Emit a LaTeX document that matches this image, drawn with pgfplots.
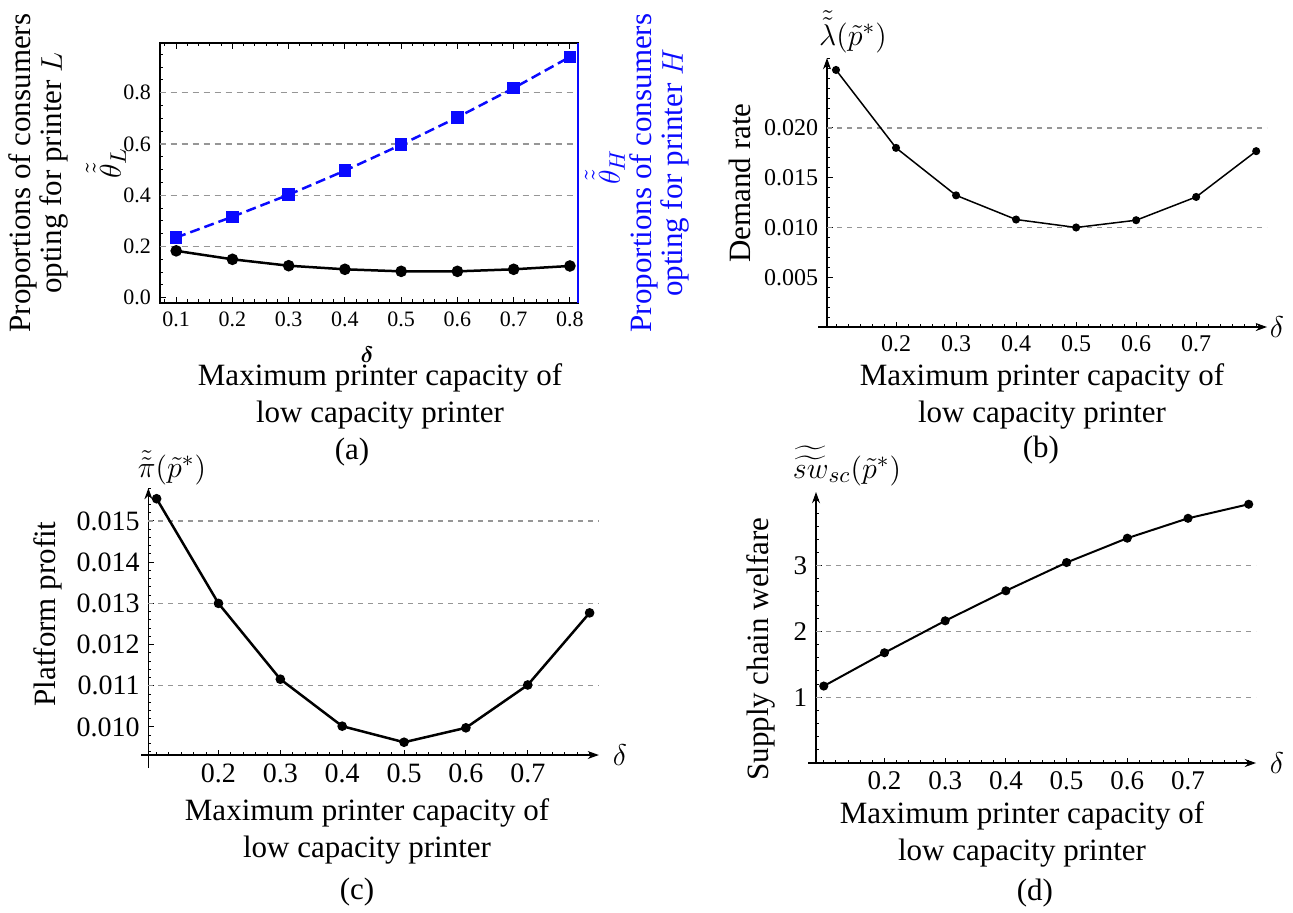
\documentclass[border=0pt]{standalone}
\usepackage{amsmath}
\usepackage{fontspec}
\setmainfont{Liberation Serif}
\usepackage{pgfplots}
\pgfplotsset{compat=1.18}
\usetikzlibrary{arrows.meta}
\definecolor{gridgray}{RGB}{150,150,150}
\definecolor{pblue}{RGB}{10,10,255}
\newcommand\lab{\fontsize{12.4}{14.8}\selectfont}
\newcommand\rlab{\fontsize{12.4}{12.6}\selectfont}

\pgfplotsset{
 mstyle/.style={
   scale only axis, anchor=south west,
   axis lines=left,
   axis line style={line width=0.5pt, -{Stealth[length=4.5pt,width=3.2pt]}},
   tick align=inside, major tick length=2.2pt, minor tick length=1.2pt,
   tick style={black, line width=0.4pt},
   scaled ticks=false,
   /pgf/number format/assume math mode=true,
   xtick={0.2,0.3,0.4,0.5,0.6,0.7},
   minor xtick={0.1,0.12,...,0.81},
   xticklabel style={/pgf/number format/fixed, /pgf/number format/precision=1, /pgf/number format/fixed zerofill},
   extra y tick labels={},
   extra y tick style={grid=major, major tick length=0pt, major grid style={gridgray, dash pattern=on 2pt off 2pt, line width=0.5pt}},
   clip=false,
 },
}

\begin{document}
\begin{tikzpicture}
\useasboundingbox (0,0) rectangle (517.2pt,-364.8pt);

% ---------------- (a) ----------------
\begin{axis}[at={(63.84pt,-17.2pt)}, anchor=north west, scale only axis,
  width=167.5pt, height=103.9pt,
  xmin=0.0705, xmax=0.815, ymin=-0.0195, ymax=0.994,
  axis line style={line width=0.8pt},
  tick align=inside, major tick length=2.4pt, minor tick length=1.3pt,
  tick style={black, line width=0.4pt},
  xtick={0.1,0.2,0.3,0.4,0.5,0.6,0.7,0.8},
  ytick={0,0.2,0.4,0.6,0.8},
  minor xtick={0.08,0.12,0.14,0.16,0.18,0.22,0.24,0.26,0.28,0.32,0.34,0.36,0.38,0.42,0.44,0.46,0.48,0.52,0.54,0.56,0.58,0.62,0.64,0.66,0.68,0.72,0.74,0.76,0.78},
  minor ytick={0.05,0.1,0.15,0.25,0.3,0.35,0.45,0.5,0.55,0.65,0.7,0.75,0.85,0.9,0.95},
  ytick pos=left,
  scaled ticks=false,
  /pgf/number format/assume math mode=true,
  ticklabel style={font=\fontsize{8.8}{10}\selectfont, /pgf/number format/fixed, /pgf/number format/precision=1, /pgf/number format/fixed zerofill},
  extra y ticks={0.2,0.4,0.6,0.8}, extra y tick labels={},
  extra y tick style={grid=major, major tick length=0pt, major grid style={gridgray, dash pattern=on 2.4pt off 2pt, line width=0.5pt}},
  clip=false]
\addplot[black, line width=1pt, mark=*, mark size=1.8pt] coordinates {
 (0.1,0.183) (0.2,0.150) (0.3,0.125) (0.4,0.111) (0.5,0.103) (0.6,0.103) (0.7,0.111) (0.8,0.124)};
\end{axis}
\begin{axis}[at={(63.84pt,-17.2pt)}, anchor=north west, scale only axis,
  width=167.5pt, height=103.9pt,
  xmin=0.0705, xmax=0.815, ymin=-0.0195, ymax=0.994,
  axis x line=none, axis y line*=right,
  y axis line style={pblue, line width=0.8pt},
  ytick=\empty, clip=false]
\addplot[pblue, line width=1pt, dash pattern=on 4pt off 2pt, mark=square*, mark size=2pt, mark options={solid}] coordinates {
 (0.1,0.235) (0.2,0.316) (0.3,0.402) (0.4,0.496) (0.5,0.597) (0.6,0.704) (0.7,0.818) (0.8,0.940)};
\end{axis}

% ---------------- (b) ----------------
\begin{axis}[mstyle, at={(330.8pt,-130.8pt)}, width=176pt, height=107.6pt,
  xmin=0.085, xmax=0.818, ymin=0, ymax=0.02703,
  x axis line style={shorten <=-3.6pt},
  ytick={0.005,0.01,0.015,0.02},
  minor ytick={0.001,0.002,...,0.0265},
  extra y ticks={0.01,0.02},
  yticklabel style={/pgf/number format/fixed, /pgf/number format/precision=3, /pgf/number format/fixed zerofill},
  ticklabel style={font=\fontsize{9.6}{11}\selectfont}]
\addplot[black, line width=0.6pt, mark=*, mark size=1.3pt] coordinates {
 (0.1,0.02583) (0.2,0.0180) (0.3,0.01323) (0.4,0.0108) (0.5,0.0100) (0.6,0.01073) (0.7,0.01307) (0.8,0.01767)};
\end{axis}

% ---------------- (c) ----------------
\begin{axis}[mstyle, at={(59.36pt,-302pt)}, width=180.2pt, height=106.8pt,
  xmin=0.0867, xmax=0.815, ymin=0.00932, ymax=0.0158,
  x axis line style={shorten <=-2.8pt},
  y axis line style={shorten <=-5.2pt},
  ytick={0.010,0.011,0.012,0.013,0.014,0.015},
  minor ytick={0.0094,0.0096,...,0.0157},
  extra y ticks={0.011,0.013,0.015},
  yticklabel style={/pgf/number format/fixed, /pgf/number format/precision=3, /pgf/number format/fixed zerofill},
  ticklabel style={font=\fontsize{11.2}{13}\selectfont}]
\addplot[black, line width=1pt, mark=*, mark size=1.4pt] coordinates {
 (0.1,0.01554) (0.2,0.0130) (0.3,0.01116) (0.4,0.01002) (0.5,0.00963) (0.6,0.00998) (0.7,0.01102) (0.8,0.01277)};
\end{axis}

% ---------------- (d) ----------------
\begin{axis}[mstyle, at={(326.4pt,-305.2pt)}, width=176pt, height=108.4pt,
  xmin=0.0872, xmax=0.812, ymin=0, ymax=4.12,
  x axis line style={shorten <=-3.2pt},
  ytick={1,2,3},
  minor ytick={0.2,0.4,...,4.01},
  extra y ticks={1,2,3},
  ticklabel style={font=\fontsize{10.8}{12}\selectfont}]
\addplot[black, line width=0.8pt, mark=*, mark size=1.4pt] coordinates {
 (0.1,1.17) (0.2,1.676) (0.3,2.162) (0.4,2.618) (0.5,3.048) (0.6,3.418) (0.7,3.72) (0.8,3.934)};
\end{axis}

% ---------------- texts ----------------
\begin{scope}[x=0.4pt,y=-0.4pt]
% (a)
\node[rotate=90, align=center, font=\rlab] at (38.5,173) {Proportions of consumers\\opting for printer $L$};
\node[rotate=90, font=\lab] at (106,163) {$\tilde{\tilde{\theta}}_L$};
\node[rotate=90, font=\lab, text=pblue] at (605,167) {$\tilde{\tilde{\theta}}_H$};
\node[rotate=90, align=center, font=\rlab, text=pblue] at (659.5,173) {Proportions of consumers\\opting for printer $H$};
\node[font=\fontsize{9}{10}\selectfont] at (367,355) {$\boldsymbol{\delta}$};
\node[align=center, font=\lab] at (380,396.5) {Maximum printer capacity of\\low capacity printer};
\node[font=\lab] at (352,452) {(a)};
% (b)
\node[font=\lab] at (853,32) {$\tilde{\tilde{\lambda}}(\tilde{p}^{*})$};
\node[rotate=90, font=\lab] at (740,183) {Demand rate};
\node[font=\lab] at (1277,327) {$\delta$};
\node[align=center, font=\lab] at (1042,396.5) {Maximum printer capacity of\\low capacity printer};
\node[font=\lab] at (1041,450) {(b)};
% (c)
\node[font=\lab] at (172,468) {$\tilde{\tilde{\pi}}(\tilde{p}^{*})$};
\node[rotate=90, font=\lab] at (48,614) {Platform profit};
\node[font=\lab] at (620,755) {$\delta$};
\node[align=center, font=\lab] at (367,831.5) {Maximum printer capacity of\\low capacity printer};
\node[font=\lab] at (357,892) {(c)};
% (d)
\node[font=\lab] at (847,466) {$\widetilde{\widetilde{sw}}_{sc}(\tilde{p}^{*})$};
\node[rotate=90, font=\lab] at (761,649) {Supply chain welfare};
\node[font=\lab] at (1277,763) {$\delta$};
\node[align=center, font=\lab] at (1022,834) {Maximum printer capacity of\\low capacity printer};
\node[font=\lab] at (1035,893) {(d)};
\end{scope}
\end{tikzpicture}
\end{document}
